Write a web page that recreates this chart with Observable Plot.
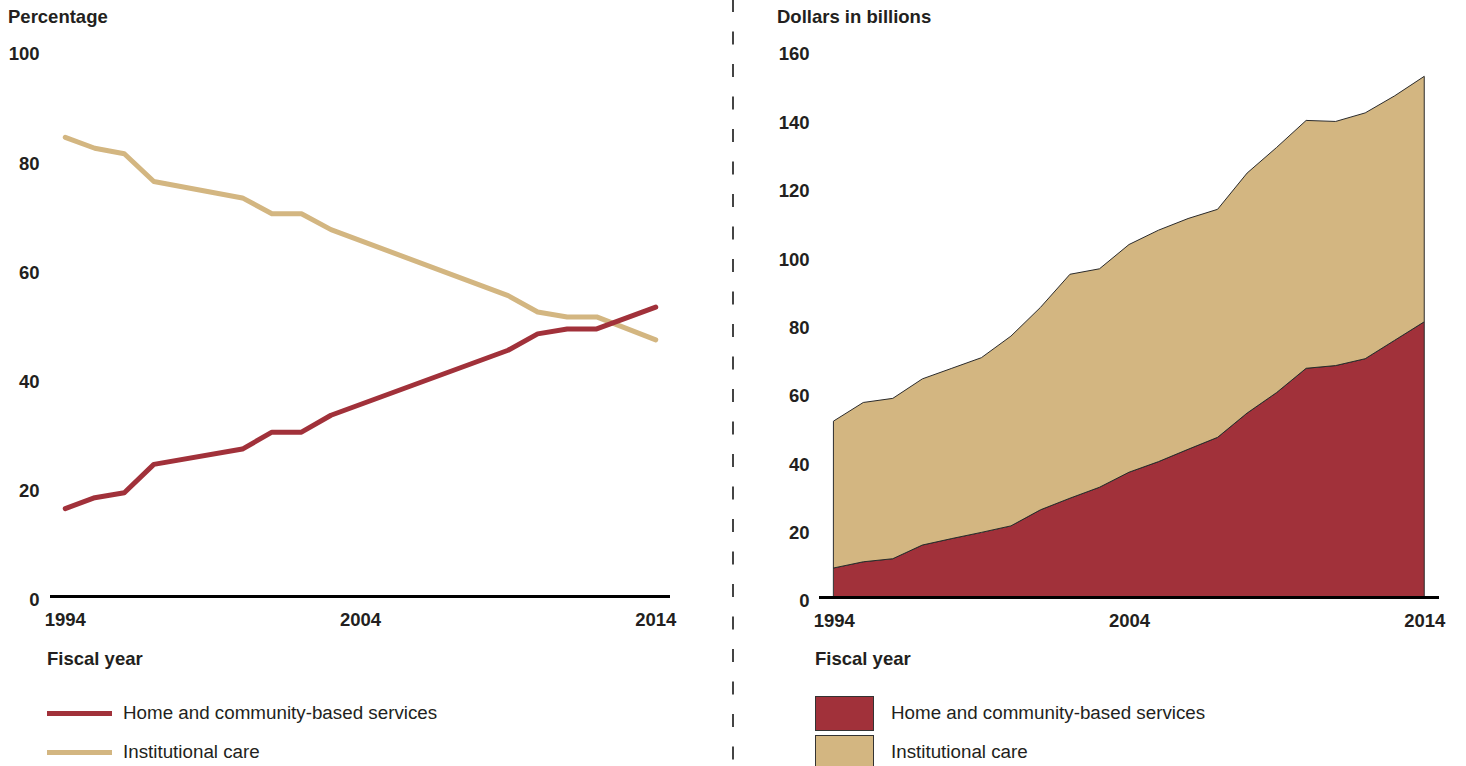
<!DOCTYPE html>
<html>
<head>
<meta charset="utf-8">
<script src="https://cdn.jsdelivr.net/npm/d3@7"></script>
<script src="https://cdn.jsdelivr.net/npm/@observablehq/plot@0.6"></script>
<style>
  html, body { margin: 0; padding: 0; background: #fff; overflow: hidden; }
  body { width: 1466px; height: 766px; position: relative; font-family: "Liberation Sans", Arial, sans-serif; color: #231f20; }
  .abs { position: absolute; white-space: nowrap; line-height: 20px; font-size: 18.5px; }
  .leg { font-size: 18.8px; }
  .bold { font-weight: bold; }
  #left, #right { position: absolute; top: 0; }
  #left { left: 0; }
  #right { left: 740px; }
  svg g[aria-label*="tick label"] text { font-weight: bold; }
</style>
</head>
<body>
<div id="left"></div>
<div id="right"></div>

<div class="abs bold" style="left:8px; top:7px;">Percentage</div>
<div class="abs bold" style="left:777px; top:7px;">Dollars in billions</div>
<div class="abs bold" style="left:47px; top:649px;">Fiscal year</div>
<div class="abs bold" style="left:815px; top:649px;">Fiscal year</div>

<div id="legendLeft"></div>
<div id="legendRight"></div>

<svg style="position:absolute; left:731px; top:0;" width="4" height="766">
  <line x1="2" x2="2" y1="0" y2="766" stroke="#444" stroke-width="2" stroke-dasharray="13 19.5" stroke-dashoffset="1"></line>
</svg>

<script>
// Series names and colours
const seriesNames = ["Home and community-based services", "Institutional care"];
const seriesColors = ["#a1313a", "#d3b681"];

// Left panel: share of Medicaid long-term services spending (percentage)
const pctYears = [1994, 1995, 1996, 1997, 2000, 2001, 2002, 2003, 2009, 2010, 2011, 2012, 2014];
const hcbsPct = [16.1, 18.1, 19.0, 24.2, 27.0, 30.1, 30.1, 33.2, 45.1, 48.1, 49.0, 49.0, 53.0];
const institutionalPct = [84.1, 82.1, 81.1, 76.0, 73.0, 70.1, 70.1, 67.2, 55.1, 52.1, 51.2, 51.2, 47.0];
const pctTicks = [0, 20, 40, 60, 80, 100];

// Right panel: spending, dollars in billions
const years = [1994, 1995, 1996, 1997, 1998, 1999, 2000, 2001, 2002, 2003, 2004,
               2005, 2006, 2007, 2008, 2009, 2010, 2011, 2012, 2013, 2014];
const hcbsDollars = [8.5, 10.3, 11.2, 15.2, 17.1, 18.9, 20.8, 25.5, 28.9, 32.1, 36.5,
                     39.6, 43.2, 46.7, 53.8, 59.8, 66.9, 67.7, 69.7, 75.1, 80.5];
const institutionalDollars = [43.0, 46.6, 46.9, 48.6, 49.8, 51.1, 55.5, 59.2, 65.5, 63.9, 66.6,
                              67.7, 67.5, 66.7, 70.2, 71.7, 72.5, 71.4, 71.9, 71.5, 71.8];
const dollarTicks = [0, 20, 40, 60, 80, 100, 120, 140, 160];

// X tick labels
const xTicks = [1994, 2004, 2014];

const hcbsPctRows = pctYears.map((y, i) => ({year: y, value: hcbsPct[i], series: seriesNames[0]}));
const instPctRows = pctYears.map((y, i) => ({year: y, value: institutionalPct[i], series: seriesNames[1]}));
const dollarRows = [
  ...years.map((y, i) => ({year: y, value: hcbsDollars[i], series: seriesNames[0]})),
  ...years.map((y, i) => ({year: y, value: institutionalDollars[i], series: seriesNames[1]}))
];

const style = {fontSize: "18.5px", fontFamily: "'Liberation Sans', Arial, sans-serif", color: "#231f20", background: "transparent", overflow: "visible"};
const color = {domain: seriesNames, range: seriesColors};

const leftPlot = Plot.plot({
  width: 725, height: 640,
  marginLeft: 50, marginRight: 55, marginTop: 50, marginBottom: 44,
  style,
  color,
  x: {domain: [1993.5, 2014.5]},
  y: {domain: [0, 100]},
  marks: [
    Plot.axisY({ticks: pctTicks, tickSize: 0, tickPadding: 11, dy: 4, fontWeight: "bold", label: null}),
    Plot.axisX({ticks: xTicks, tickFormat: d => String(d), tickSize: 0, tickPadding: 16, fontWeight: "bold", label: null}),
    Plot.line(instPctRows, {x: "year", y: "value", stroke: "series", strokeWidth: 5, strokeLinecap: "round", strokeLinejoin: "round"}),
    Plot.line(hcbsPctRows, {x: "year", y: "value", stroke: "series", strokeWidth: 5, strokeLinecap: "round", strokeLinejoin: "round"}),
    Plot.ruleY([0], {stroke: "#000", strokeWidth: 3})
  ]
});
document.getElementById("left").appendChild(leftPlot);

const rightPlot = Plot.plot({
  width: 726, height: 640,
  marginLeft: 79, marginRight: 27, marginTop: 50, marginBottom: 43,
  style,
  color,
  x: {domain: [1993.5, 2014.5]},
  y: {domain: [0, 160]},
  marks: [
    Plot.axisY({ticks: dollarTicks, tickSize: 0, tickPadding: 10, dy: 4, fontWeight: "bold", label: null}),
    Plot.axisX({ticks: xTicks, tickFormat: d => String(d), tickSize: 0, tickPadding: 16, fontWeight: "bold", label: null}),
    Plot.areaY(dollarRows, {x: "year", y: "value", fill: "series", stroke: "#2b2b2b", strokeWidth: 1, order: seriesNames}),
    Plot.ruleY([0], {stroke: "#000", strokeWidth: 3})
  ]
});
document.getElementById("right").appendChild(rightPlot);

// Legends
const legL = document.getElementById("legendLeft");
const legR = document.getElementById("legendRight");
const rowCenters = [713, 752];
seriesNames.forEach((name, i) => {
  const c = rowCenters[i];
  // left: line swatches
  const sw = document.createElement("div");
  sw.style.cssText = `position:absolute; left:47px; top:${c - 2}px; width:65px; height:5px; background:${seriesColors[i]};`;
  legL.appendChild(sw);
  const t = document.createElement("div");
  t.className = "abs leg";
  t.style.left = "123px"; t.style.top = (c - 10) + "px";
  t.textContent = name;
  legL.appendChild(t);
  // right: square swatches
  const sq = document.createElement("div");
  sq.style.cssText = `position:absolute; left:815px; top:${c - 17}px; width:57px; height:33px; background:${seriesColors[i]}; border:1px solid #333;`;
  legR.appendChild(sq);
  const t2 = document.createElement("div");
  t2.className = "abs leg";
  t2.style.left = "891px"; t2.style.top = (c - 10) + "px";
  t2.textContent = name;
  legR.appendChild(t2);
});
</script>
</body>
</html>
